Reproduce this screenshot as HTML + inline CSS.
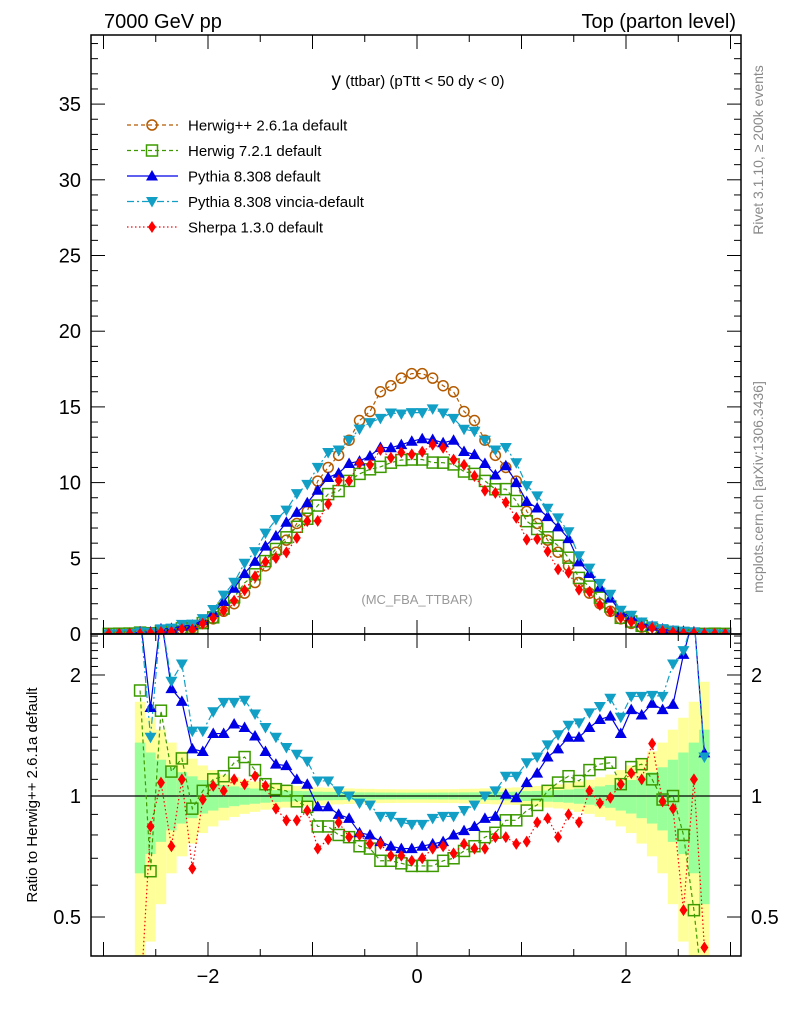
<!DOCTYPE html>
<html><head><meta charset="utf-8"><style>
html,body{margin:0;padding:0;background:#fff;width:786px;height:1024px;overflow:hidden;}
svg{display:block;font-family:"Liberation Sans",sans-serif;}
</style></head><body>
<svg id="chart" width="786" height="1024" viewBox="0 0 786 1024" xmlns="http://www.w3.org/2000/svg">
<text x="104" y="28" font-size="20">7000 GeV pp</text>
<text x="736" y="28" font-size="20" text-anchor="end">Top (parton level)</text>
<text x="418" y="86" font-size="15" text-anchor="middle"><tspan font-size="19">y</tspan> (ttbar) (pTtt &lt; 50 dy &lt; 0)</text>
<text x="417" y="604" font-size="13" fill="#999" text-anchor="middle">(MC_FBA_TTBAR)</text>
<text transform="translate(763,150) rotate(-90)" font-size="14" fill="#888" text-anchor="middle">Rivet 3.1.10, ≥ 200k events</text>
<text transform="translate(763,487) rotate(-90)" font-size="14" fill="#888" text-anchor="middle">mcplots.cern.ch [arXiv:1306.3436]</text>
<text transform="translate(37,795) rotate(-90)" font-size="15" text-anchor="middle">Ratio to Herwig++ 2.6.1a default</text>
<g id="bands"></g><g id="marks"></g><g id="axes"></g><g id="legend"></g>
</svg>
<script>
const xCenters = [];
for (let i = 0; i < 60; i++) xCenters.push(Math.round((-2.95 + i * 0.1) * 100) / 100);
const herwigPP = [0.01,0.02,0.03,0.05,0.08,0.12,0.2,0.3,0.45,0.7,1.0,1.5,2.0,2.7,3.4,4.5,5.4,6.2,7.3,8.1,10.1,11.0,11.8,12.8,14.1,14.7,16.0,16.4,16.9,17.2,
 17.2,16.9,16.4,16.0,14.7,14.1,12.8,11.8,11.0,10.1,8.1,7.3,6.2,5.4,4.5,3.4,2.7,2.0,1.5,1.0,0.7,0.45,0.3,0.2,0.12,0.08,0.05,0.03,0.02,0.01];
const herwig7Ratio = [null,null,null,1.83,0.65,1.63,1.15,1.24,0.93,1.03,1.10,1.12,1.21,1.25,1.16,1.07,1.04,1.03,0.97,0.94,0.84,0.84,0.80,0.79,0.75,0.74,0.69,0.69,0.68,0.67,
 0.67,0.67,0.69,0.70,0.73,0.75,0.79,0.81,0.87,0.87,0.92,0.95,1.03,1.08,1.12,1.09,1.16,1.20,1.21,1.07,1.18,1.20,1.10,0.98,1.00,0.80,0.52,0.3,null,null];
const pythiaRatio = [null,null,null,2.8,1.66,2.8,1.85,1.72,1.31,1.29,1.43,1.43,1.51,1.48,1.41,1.29,1.20,1.19,1.10,1.07,0.94,0.94,0.90,0.88,0.81,0.80,0.77,0.75,0.74,0.74,
 0.75,0.76,0.77,0.80,0.82,0.84,0.88,0.89,1.01,0.99,1.08,1.14,1.25,1.31,1.40,1.40,1.48,1.55,1.58,1.43,1.64,1.59,1.70,1.64,1.69,2.25,2.8,1.28,null,null];
const vinciaRatio = [null,null,null,2.8,1.40,2.8,1.93,2.13,1.45,1.45,1.62,1.71,1.71,1.73,1.60,1.48,1.40,1.32,1.27,1.22,1.09,1.09,1.03,1.00,0.96,0.95,0.89,0.89,0.86,0.85,
 0.85,0.88,0.89,0.89,0.92,0.95,1.00,1.03,1.12,1.12,1.21,1.25,1.34,1.42,1.50,1.52,1.61,1.67,1.75,1.57,1.77,1.77,1.78,1.77,2.13,2.30,2.8,1.25,null,null];
const sherpaRatio = [null,null,null,0.3,0.84,1.08,0.75,1.10,0.66,0.98,1.06,1.03,1.10,1.07,1.12,1.06,0.93,0.87,0.87,0.92,0.74,0.78,0.86,0.79,0.80,0.76,0.76,0.71,0.71,0.69,
 0.70,0.74,0.75,0.72,0.76,0.74,0.74,0.79,0.79,0.76,0.77,0.86,0.88,0.79,0.90,0.86,1.03,0.96,0.99,1.07,1.14,1.10,1.35,0.97,0.93,0.52,1.10,0.42,null,null];
const mainYTicks = [0,5,10,15,20,25,30,35];
const ratioYTicks = [0.5,1,2];
const xTickLabels = [-2,0,2];

const NS = "http://www.w3.org/2000/svg";
const L = 91, R = 741, T = 35, MB = 634, RB = 956;
const X = v => 417 + v * 104.5;
const Ym = v => 634 - v * 15.14;
const Yr = v => 796 - Math.log10(v) * 402;
const clampR = y => Math.max(MB, Math.min(RB, y));
function mk(tag, attrs, parent) {
  const e = document.createElementNS(NS, tag);
  for (const k in attrs) e.setAttribute(k, attrs[k]);
  parent.appendChild(e); return e;
}
const gB = document.getElementById('bands'), gM = document.getElementById('marks'), gA = document.getElementById('axes'), gL = document.getElementById('legend');

const defs = mk('defs', {}, document.getElementById('chart'));
const c1 = mk('clipPath', {id: 'cm'}, defs); mk('rect', {x: L, y: T, width: R - L, height: MB - T}, c1);
const c2 = mk('clipPath', {id: 'cr'}, defs); mk('rect', {x: L, y: MB, width: R - L, height: RB - MB}, c2);

const bandG = mk('g', {'clip-path': 'url(#cr)'}, gB);
xCenters.forEach((xc, i) => {
  if (herwig7Ratio[i] === null) return;
  const e = 0.08 / Math.sqrt(herwigPP[i]);
  const yt2 = clampR(Yr(1 + 2 * e)), yb2 = clampR(Yr(Math.max(0.05, 1 - 2 * e)));
  const y1 = mk('rect', {x: X(xc - 0.05), width: 10.45, y: yt2, height: Math.max(0, yb2 - yt2), fill: '#ffff99'}, bandG);
  
  
  const yt1 = clampR(Yr(1 + e)), yb1 = clampR(Yr(Math.max(0.05, 1 - e)));
  const g1 = mk('rect', {x: X(xc - 0.05), width: 10.45, y: yt1, height: Math.max(0, yb1 - yt1), fill: '#99ff99'}, bandG);
  
  
});
mk('line', {x1: L, x2: R, y1: Yr(1), y2: Yr(1), stroke: '#000', 'stroke-width': 1.3}, gB);

const series = [
  {name: 'herwig-pp', label: 'Herwig++ 2.6.1a default', color: '#b35a00', dash: '4,3', marker: 'circle', ratio: null},
  {name: 'herwig7', label: 'Herwig 7.2.1 default', color: '#3c9a00', dash: '4,3', marker: 'square', ratio: herwig7Ratio},
  {name: 'pythia', label: 'Pythia 8.308 default', color: '#0000e6', dash: '', marker: 'tri-up', ratio: pythiaRatio},
  {name: 'vincia', label: 'Pythia 8.308 vincia-default', color: '#119fc6', dash: '7,3,2,3', marker: 'tri-down', ratio: vinciaRatio},
  {name: 'sherpa', label: 'Sherpa 1.3.0 default', color: '#ff0000', dash: '1.5,2.5', marker: 'diamond', ratio: sherpaRatio}
];
function marker(type, x, y, color, parent, name) {
  let e;
  if (type === 'circle') e = mk('circle', {cx: x, cy: y, r: 5, fill: 'none', stroke: color, 'stroke-width': 1.5}, parent);
  else if (type === 'square') e = mk('rect', {x: x - 5.5, y: y - 5.5, width: 11, height: 11, fill: 'none', stroke: color, 'stroke-width': 1.5}, parent);
  else if (type === 'tri-up') e = mk('polygon', {points: `${x},${y - 6} ${x + 6},${y + 4.5} ${x - 6},${y + 4.5}`, fill: color}, parent);
  else if (type === 'tri-down') e = mk('polygon', {points: `${x},${y + 6} ${x + 6},${y - 4.5} ${x - 6},${y - 4.5}`, fill: color}, parent);
  else e = mk('polygon', {points: `${x},${y - 6} ${x + 4},${y} ${x},${y + 6} ${x - 4},${y}`, fill: color}, parent);
  
  
  return e;
}
const mainG = mk('g', {'clip-path': 'url(#cm)'}, gM);
const ratG = mk('g', {'clip-path': 'url(#cr)'}, gM);
series.forEach(s => {
  const mainVals = xCenters.map((xc, i) => s.ratio ? (s.ratio[i] === null ? herwigPP[i] : herwigPP[i] * s.ratio[i]) : herwigPP[i]);
  const ptsM = xCenters.map((xc, i) => [X(xc), Ym(mainVals[i])]);
  const lm = mk('polyline', {points: ptsM.map(p => p.join(',')).join(' '), fill: 'none', stroke: s.color, 'stroke-width': 1.2, 'stroke-dasharray': s.dash}, mainG);
  
  
  ptsM.forEach(p => marker(s.marker, p[0], p[1], s.color, mainG, s.name + '-point'));
  if (s.ratio) {
    const ptsR = [];
    xCenters.forEach((xc, i) => { if (s.ratio[i] !== null) ptsR.push([X(xc), Yr(s.ratio[i])]); });
    const lr = mk('polyline', {points: ptsR.map(p => p.join(',')).join(' '), fill: 'none', stroke: s.color, 'stroke-width': 1.2, 'stroke-dasharray': s.dash}, ratG);
    
    
    ptsR.forEach(p => marker(s.marker, p[0], p[1], s.color, ratG, s.name + '-ratio-point'));
  }
});

const f1 = mk('rect', {x: L, y: T, width: R - L, height: MB - T, fill: 'none', stroke: '#000', 'stroke-width': 1.5}, gA);


const f2 = mk('rect', {x: L, y: MB, width: R - L, height: RB - MB, fill: 'none', stroke: '#000', 'stroke-width': 1.5}, gA);


for (let v = 0; v <= 39; v++) {
  const len = v % 5 === 0 ? 14 : 7, y = Ym(v);
  mk('line', {x1: L, x2: L + len, y1: y, y2: y, stroke: '#000'}, gA);
  mk('line', {x1: R, x2: R - len, y1: y, y2: y, stroke: '#000'}, gA);
}
mainYTicks.forEach(v => {
  const t = mk('text', {x: 81, y: Ym(v) + 7, 'font-size': 20, 'text-anchor': 'end'}, gA);
  t.textContent = v;
  
  
});
for (let k = -6; k <= 6; k++) {
  const v = k * 0.5, x = X(v), len = k % 2 === 0 ? 14 : 7;
  [[MB, -1], [T, 1], [RB, -1], [MB, 1]].forEach(([y0, d]) => mk('line', {x1: x, x2: x, y1: y0, y2: y0 + d * len, stroke: '#000'}, gA));
}
xTickLabels.forEach(v => {
  const t = mk('text', {x: X(v), y: 983, 'font-size': 20, 'text-anchor': 'middle'}, gA);
  t.textContent = v < 0 ? '\u2212' + Math.abs(v) : v;
  
  
});
[0.4, 0.5, 0.6, 0.7, 0.8, 0.9, 1, 1.1, 1.2, 1.3, 1.4, 1.5, 1.6, 1.7, 1.8, 1.9, 2, 2.1, 2.2, 2.3, 2.4, 2.5].forEach(v => {
  const len = ratioYTicks.includes(v) ? 14 : 7, y = Yr(v);
  mk('line', {x1: L, x2: L + len, y1: y, y2: y, stroke: '#000'}, gA);
  mk('line', {x1: R, x2: R - len, y1: y, y2: y, stroke: '#000'}, gA);
});
ratioYTicks.forEach(v => {
  const t = mk('text', {x: 81, y: Yr(v) + 7, 'font-size': 20, 'text-anchor': 'end'}, gA);
  t.textContent = v;
  
  
  const t2 = mk('text', {x: 751, y: Yr(v) + 7, 'font-size': 20}, gA);
  t2.textContent = v;
  
  
});
series.forEach((s, i) => {
  const y = 125 + i * 25.5;
  const g = mk('g', {}, gL);
  
  
  mk('line', {x1: 127, x2: 178, y1: y, y2: y, stroke: s.color, 'stroke-width': 1.2, 'stroke-dasharray': s.dash}, g);
  marker(s.marker, 152, y, s.color, g, 'legend-marker');
  const t = mk('text', {x: 188, y: y + 5.5, 'font-size': 15}, g);
  t.textContent = s.label;
});
</script>
</body></html>
